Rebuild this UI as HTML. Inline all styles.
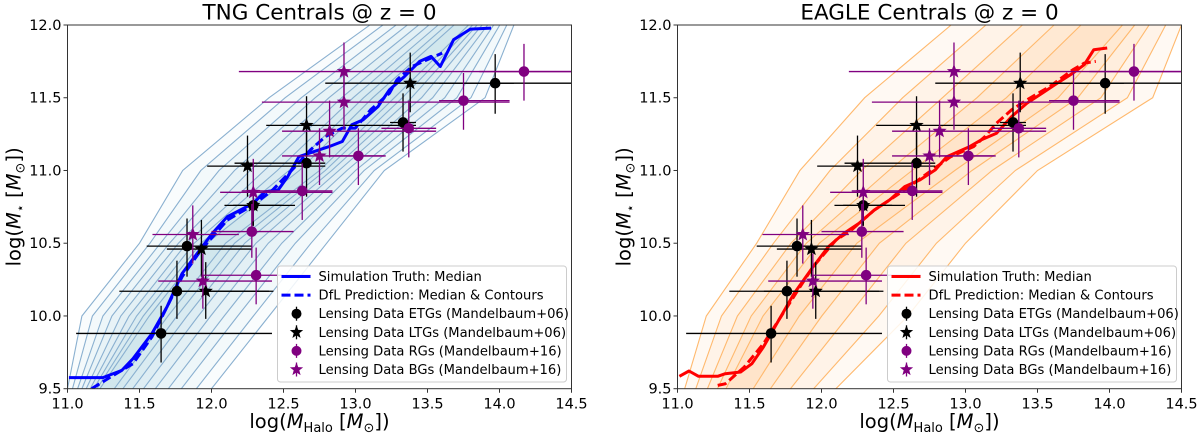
<!DOCTYPE html>
<html><head><meta charset="utf-8">
<style>
html,body{margin:0;padding:0;background:#fff;}
svg text{font-family:"DejaVu Sans","Liberation Sans",sans-serif;}
</style></head>
<body>
<svg id="fig" width="1200" height="436" viewBox="0 0 1200 436" xmlns="http://www.w3.org/2000/svg"></svg>
<script>
// ---- data ----
const xTicks = [11.0, 11.5, 12.0, 12.5, 13.0, 13.5, 14.0, 14.5];
const yTicks = [9.5, 10.0, 10.5, 11.0, 11.5, 12.0];
// observational points: [x, y, xlo, xhi, ylo, yhi]
const etgData = [[11.65,9.88,11.06,12.42,9.68,10.07],[11.76,10.17,11.36,12.43,9.98,10.38],[11.83,10.48,11.55,12.28,10.27,10.67],[12.29,10.76,12.09,12.58,10.62,10.85],[12.66,11.05,12.16,12.79,10.82,11.26],[13.33,11.33,13.24,13.42,11.13,11.53],[13.97,11.60,13.58,14.10,11.39,11.80]];
const ltgData = [[11.96,10.17,11.60,12.40,9.98,10.37],[11.93,10.46,11.69,12.28,10.27,10.66],[12.29,10.76,12.15,12.49,10.62,10.85],[12.25,11.03,11.97,12.79,10.82,11.24],[12.66,11.31,12.38,13.42,11.11,11.51],[13.38,11.60,12.79,14.50,11.40,11.81]];
const rgData = [[12.31,10.28,11.93,12.69,10.08,10.47],[12.28,10.58,12.00,12.57,10.40,10.77],[12.63,10.86,12.21,12.84,10.66,11.05],[13.02,11.10,12.82,13.21,10.90,11.29],[13.37,11.29,13.18,13.56,11.09,11.48],[13.75,11.48,13.58,14.07,11.28,11.67],[14.17,11.68,13.86,14.50,11.48,11.87]];
const bgData = [[11.94,10.24,11.63,12.42,10.05,10.43],[11.87,10.56,11.59,12.19,10.36,10.76],[12.29,10.85,12.06,12.84,10.65,11.08],[12.75,11.10,12.49,13.20,10.90,11.29],[12.82,11.27,12.49,13.56,11.09,11.48],[12.92,11.47,12.35,14.07,11.28,11.67],[12.92,11.68,12.19,14.50,11.48,11.88]];
// median curves [x, y]
const tngTruth = [[11.01,9.576],[11.246,9.576],[11.377,9.626],[11.455,9.707],[11.586,9.879],[11.691,10.062],[11.796,10.292],[11.901,10.430],[12.005,10.567],[12.110,10.682],[12.288,10.774],[12.372,10.854],[12.463,10.866],[12.529,10.958],[12.607,11.095],[12.712,11.130],[12.817,11.164],[12.908,11.199],[12.974,11.314],[13.052,11.348],[13.157,11.440],[13.236,11.555],[13.340,11.646],[13.445,11.750],[13.524,11.784],[13.589,11.715],[13.681,11.899],[13.798,11.972],[13.942,11.979]];
const tngPred = [[11.168,9.500],[11.298,9.580],[11.455,9.672],[11.586,9.856],[11.691,10.062],[11.796,10.269],[11.927,10.453],[12.110,10.659],[12.288,10.763],[12.424,10.866],[12.581,11.027],[12.686,11.141],[12.791,11.233],[12.908,11.291],[12.999,11.291],[13.105,11.417],[13.236,11.532],[13.288,11.624],[13.393,11.715],[13.497,11.761],[13.602,11.807]];
const eagleTruth = [[11.013,9.585],[11.080,9.622],[11.146,9.585],[11.279,9.585],[11.332,9.603],[11.438,9.615],[11.517,9.672],[11.597,9.787],[11.703,9.971],[11.809,10.154],[11.942,10.338],[12.048,10.476],[12.154,10.567],[12.260,10.636],[12.366,10.728],[12.472,10.797],[12.578,10.889],[12.684,10.935],[12.790,11.004],[12.870,11.095],[12.950,11.130],[13.029,11.164],[13.109,11.210],[13.215,11.256],[13.321,11.371],[13.427,11.463],[13.533,11.532],[13.639,11.601],[13.745,11.669],[13.825,11.727],[13.891,11.830],[13.984,11.842]];
const eaglePred = [[11.279,9.523],[11.332,9.534],[11.464,9.649],[11.597,9.810],[11.703,9.971],[11.836,10.177],[11.942,10.338],[12.101,10.522],[12.207,10.590],[12.366,10.728],[12.578,10.866],[12.737,10.981],[12.897,11.095],[13.056,11.164],[13.135,11.233],[13.215,11.325],[13.321,11.417],[13.427,11.486],[13.586,11.578],[13.745,11.692],[13.825,11.738],[13.905,11.750]];
// contour envelopes: y grid, outer left/right x, and center x
const contourY = [9.5, 10.0, 10.5, 11.0, 11.5, 12.0];
const tngCenter = [11.25, 11.62, 12.02, 12.70, 13.20, 13.75];
const tngOuterL = [11.0, 11.1, 11.5, 11.8, 12.4, 13.1];
const tngOuterR = [12.0, 12.4, 12.8, 13.2, 13.9, 14.1];
const eagleCenter = [11.40, 11.68, 12.08, 12.80, 13.50, 14.0];
const eagleOuterL = [11.05, 11.2, 11.55, 11.85, 12.3, 12.9];
const eagleOuterR = [12.1, 12.6, 13.0, 13.5, 14.3, 14.5];

const NS = "http://www.w3.org/2000/svg";
const svg = document.getElementById('fig');
function mk(tag, attrs, parent){const e=document.createElementNS(NS,tag);for(const k in attrs)e.setAttribute(k,attrs[k]);(parent||svg).appendChild(e);return e;}

function starPts(cx,cy,R){const r=R*0.42;let p=[];for(let i=0;i<10;i++){const a=-Math.PI/2+i*Math.PI/5;const rr=i%2?r:R;p.push((cx+rr*Math.cos(a)).toFixed(2)+','+(cy+rr*Math.sin(a)).toFixed(2));}return p.join(' ');}

function panel(cfg){
  const L=cfg.left, R=L+504, T=25, B=388.7;
  const sx=v=>L+(v-11)/3.5*(R-L);
  const sy=v=>B-(v-9.5)/2.5*(B-T);
  const g=mk('g',{});
  
  
  const clipId='clip'+cfg.name;
  const cp=mk('clipPath',{id:clipId},g); mk('rect',{x:L,y:T,width:R-L,height:B-T},cp);
  const plot=mk('g',{'clip-path':'url(#'+clipId+')'},g);
  const levels=cfg.levels;
  for(let li=0;li<levels.length;li++){
    const f=levels[li];
    let left=[],right=[];
    const n=contourY.length;
    for(let i=0;i<n;i++){
      const c=cfg.center[i];
      left.push([c+(cfg.outerL[i]-c)*f, contourY[i]]);
      right.push([c+(cfg.outerR[i]-c)*f, contourY[i]]);
    }
    const pts=[...left.map(p=>[p[0],p[1]]),[left[n-1][0]+0.3*f,12.3],[right[n-1][0],12.3],...right.reverse()];
    pts.unshift([cfg.center[0]+(cfg.outerL[0]-cfg.center[0])*f-0.2,9.2]);
    pts.push([cfg.center[0]+(cfg.outerR[0]-cfg.center[0])*f-0.1,9.2]);
    const d='M'+pts.map(p=>sx(p[0]).toFixed(1)+','+sy(p[1]).toFixed(1)).join('L')+'Z';
    const pa=mk('path',{d:d,fill:cfg.fill,'fill-opacity':cfg.fillOp,stroke:cfg.stroke,'stroke-width':1.1},plot);
    
    
  }
  const line=(arr,dash,nm)=>{const p=mk('polyline',{points:arr.map(q=>sx(q[0]).toFixed(1)+','+sy(q[1]).toFixed(1)).join(' '),fill:'none',stroke:cfg.line,'stroke-width':3,'stroke-dasharray':dash?'9,4':'none','stroke-linejoin':'round'},plot);
    
    };
  line(cfg.truth,false,cfg.name+'-truth-median');
  line(cfg.pred,true,cfg.name+'-dfl-prediction-median');
  const pts=(arr,color,star,nm)=>{
    arr.forEach(d=>{
      const gg=mk('g',{},plot);
      
      
      mk('line',{x1:sx(d[2]),x2:sx(d[3]),y1:sy(d[1]),y2:sy(d[1]),stroke:color,'stroke-width':1.3},gg);
      mk('line',{x1:sx(d[0]),x2:sx(d[0]),y1:sy(d[4]),y2:sy(d[5]),stroke:color,'stroke-width':1.3},gg);
      if(star) mk('polygon',{points:starPts(sx(d[0]),sy(d[1]),7.5),fill:color},gg);
      else mk('circle',{cx:sx(d[0]),cy:sy(d[1]),r:5.3,fill:color},gg);
    });
  };
  pts(etgData,'#000',false,'etg-point');
  pts(ltgData,'#000',true,'ltg-point');
  pts(rgData,'#800080',false,'rg-point');
  pts(bgData,'#800080',true,'bg-point');
  const fr=mk('rect',{x:L,y:T,width:R-L,height:B-T,fill:'none',stroke:'#333','stroke-width':1},g);
  
  
  xTicks.forEach(t=>{
    mk('line',{x1:sx(t),x2:sx(t),y1:B,y2:B+4,stroke:'#333'},g);
    const tx=mk('text',{x:sx(t),y:B+20,'font-size':14.5,'text-anchor':'middle'},g);
    tx.textContent=t.toFixed(1);
    
    
  });
  yTicks.forEach(t=>{
    mk('line',{x1:L-4,x2:L,y1:sy(t),y2:sy(t),stroke:'#333'},g);
    const tx=mk('text',{x:L-6,y:sy(t)+5,'font-size':14.5,'text-anchor':'end'},g);
    tx.textContent=t.toFixed(1);
    
    
  });
  const ti=mk('text',{x:(L+R)/2,y:19.5,'font-size':21.5,'text-anchor':'middle'},g);
  ti.textContent=cfg.title;
  
  
  const xl=mk('text',{x:(L+R)/2,y:428,'font-size':19.5,'text-anchor':'middle'},g);
  xl.innerHTML='log(<tspan font-style="italic">M</tspan><tspan font-size="13" dy="4">Halo</tspan><tspan dy="-4"> [</tspan><tspan font-style="italic">M</tspan><tspan font-size="13" dy="4">⊙</tspan><tspan dy="-4">])</tspan>';
  
  
  const yl=mk('text',{x:0,y:0,'font-size':19.5,'text-anchor':'middle',transform:'translate('+(L-47)+','+((T+B)/2)+') rotate(-90)'},g);
  yl.innerHTML='log(<tspan font-style="italic">M</tspan><tspan font-size="13" dy="4">⋆</tspan><tspan dy="-4"> [</tspan><tspan font-style="italic">M</tspan><tspan font-size="13" dy="4">⊙</tspan><tspan dy="-4">])</tspan>';
  
  
  const lx=L+210, ly=266;
  const lg=mk('g',{},g);
  
  
  mk('rect',{x:lx,y:ly,width:289,height:116,rx:3,fill:'#fff','fill-opacity':0.85,stroke:'#ccc'},lg);
  const labels=['Simulation Truth: Median','DfL Prediction: Median & Contours','Lensing Data ETGs (Mandelbaum+06)','Lensing Data LTGs (Mandelbaum+06)','Lensing Data RGs (Mandelbaum+16)','Lensing Data BGs (Mandelbaum+16)'];
  labels.forEach((s,i)=>{
    const yy=ly+10.5+i*18.6;
    const mx=lx+19;
    if(i==0) mk('line',{x1:lx+4,x2:lx+33,y1:yy,y2:yy,stroke:cfg.line,'stroke-width':3},lg);
    else if(i==1) mk('line',{x1:lx+4,x2:lx+33,y1:yy,y2:yy,stroke:cfg.line,'stroke-width':3,'stroke-dasharray':'9,4'},lg);
    else {
      const col=i<4?'#000':'#800080';
      mk('line',{x1:mx,x2:mx,y1:yy-7,y2:yy+7,stroke:col,'stroke-width':1.3},lg);
      if(i==2||i==4) mk('circle',{cx:mx,cy:yy,r:5,fill:col},lg);
      else mk('polygon',{points:starPts(mx,yy,7),fill:col},lg);
    }
    const t=mk('text',{x:lx+41,y:yy+4.5,'font-size':13.1},lg);
    t.textContent=s;
    
    
  });
}
panel({name:'tng',left:67.5,title:'TNG Centrals @ z = 0',truth:tngTruth,pred:tngPred,line:'#0000ff',
  center:tngCenter,outerL:tngOuterL,outerR:tngOuterR,levels:[1,0.86,0.72,0.6,0.48,0.37,0.27,0.18,0.1],
  fill:'#9ecae1',fillOp:0.06,stroke:'#8ab0d0'});
panel({name:'eagle',left:677.5,title:'EAGLE Centrals @ z = 0',truth:eagleTruth,pred:eaglePred,line:'#ff0000',
  center:eagleCenter,outerL:eagleOuterL,outerR:eagleOuterR,levels:[1,0.78,0.55,0.35,0.18],
  fill:'#fdae6b',fillOp:0.08,stroke:'#ffb96e'});
</script>
</body></html>
